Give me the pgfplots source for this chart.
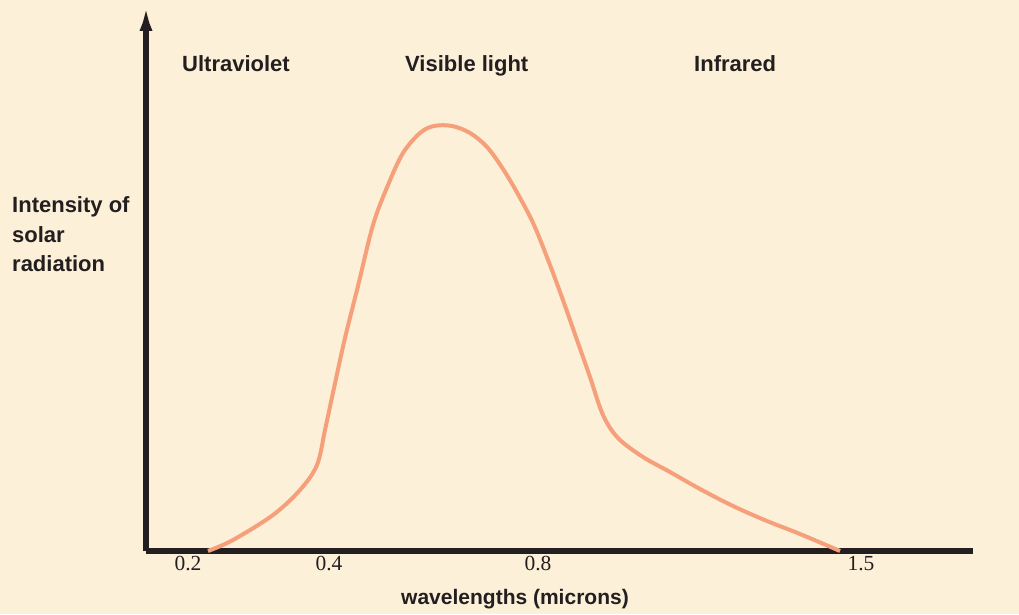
\documentclass[border=0pt]{standalone}
\usepackage{fontspec}
\setmainfont{Liberation Sans}
\newfontfamily\seriffont{Liberation Serif}
\usepackage{pgfplots}
\pgfplotsset{compat=1.18}
\usetikzlibrary{arrows.meta}
\definecolor{bg}{HTML}{FDF0D8}
\definecolor{curve}{HTML}{F5A07B}
\definecolor{ink}{HTML}{231F20}

\begin{document}
\begin{tikzpicture}
\fill[bg] (-146pt,-63pt) rectangle (873pt,551pt);
\begin{axis}[
  at={(0,0)}, anchor=south west,
  scale only axis, width=827pt, height=546pt,
  xmin=146, xmax=973, ymin=0, ymax=546,
  axis lines=left,
  axis line style={line width=5.5pt, ink},
  x axis line style={-},
  y axis line style={-{Latex[length=26pt,width=13pt]}},
  ytick=\empty,
  xtick={188,329,538,861},
  xticklabels={0.2,0.4,0.8,1.5},
  major tick length=0pt,
  xticklabel style={font=\seriffont\fontsize{21.5}{25}\selectfont, text=ink, anchor=north, yshift=-2pt},
  clip=false,
]
% intensity curve (x in px, y in px above the axis)
\addplot[curve, line width=4pt, smooth, tension=0.55] coordinates {
  (208,0) (233,11) (273,36) (300,61) (317,86) (325,121) (334,163)
  (345,213) (358,265) (373,326) (388,366) (403,398) (420,418) (434,425)
  (452,425) (470,418) (487,404) (503,382) (519,355) (534,326) (550,286)
  (564,248) (577,211) (590,174) (603,136) (618,113) (643,94) (670,79)
  (700,62) (733,45) (767,30) (800,17) (840,0)
};
\begin{scope}[every node/.style={font=\bfseries\fontsize{22}{26}\selectfont, text=ink, inner sep=0pt}]
\node[anchor=base west] at (axis cs:182,479) {Ultraviolet};
\node[anchor=base west] at (axis cs:405,479) {Visible light};
\node[anchor=base west] at (axis cs:694,479) {Infrared};
\node[anchor=base west] at (axis cs:12,339) {Intensity of};
\node[anchor=base west] at (axis cs:12,309) {solar};
\node[anchor=base west] at (axis cs:12,280) {radiation};
\end{scope}
\node[font=\bfseries\fontsize{21}{25}\selectfont, text=ink, inner sep=0pt, anchor=base] at (axis cs:515,-53) {wavelengths (microns)};
\end{axis}
\pgfresetboundingbox
\useasboundingbox (-146pt,-63pt) rectangle (873pt,551pt);
\end{tikzpicture}
\end{document}
